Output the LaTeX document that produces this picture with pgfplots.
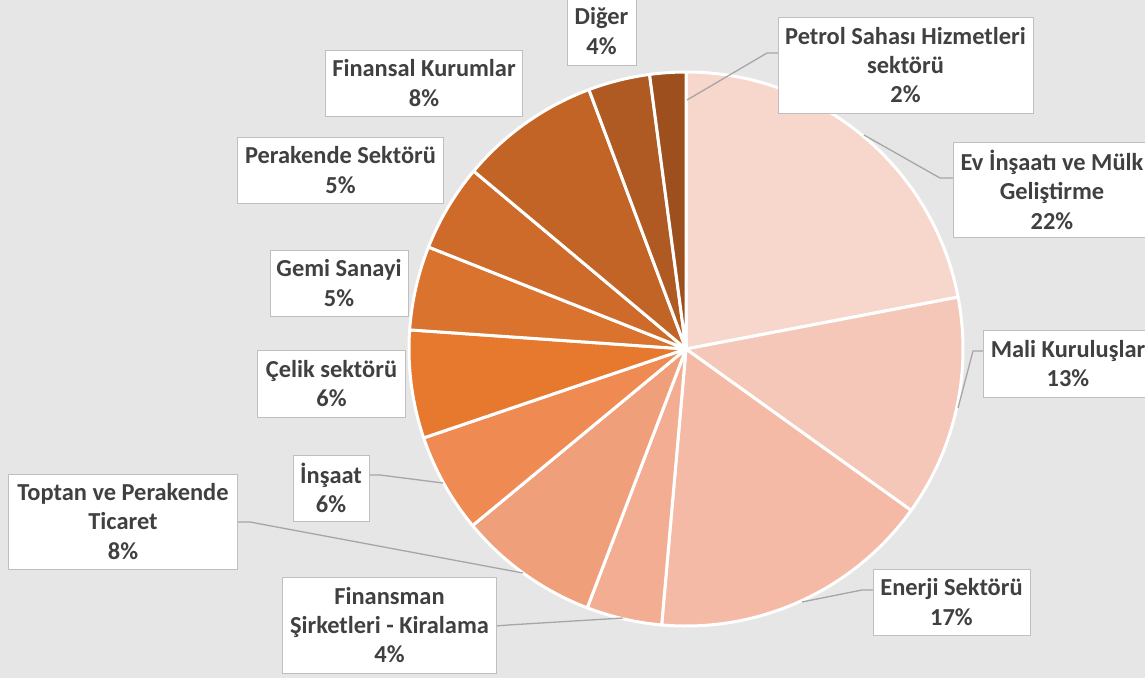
\documentclass[border=0pt]{standalone}
\usepackage{pgfplots}
\pgfplotsset{compat=1.18}
\usepackage{fontspec}
\setmainfont{Carlito}
\definecolor{bg}{HTML}{E5E6E5}
\definecolor{txt}{HTML}{404040}
\definecolor{bord}{HTML}{BFBFBF}
\definecolor{lead}{HTML}{A6A6A6}
\definecolor{c1}{HTML}{F7D6CB}
\definecolor{c2}{HTML}{F5C7B8}
\definecolor{c3}{HTML}{F4BAA6}
\definecolor{c4}{HTML}{F2AD93}
\definecolor{c5}{HTML}{F09F7B}
\definecolor{c6}{HTML}{EE8A52}
\definecolor{c7}{HTML}{E7792F}
\definecolor{c8}{HTML}{DA732E}
\definecolor{c9}{HTML}{CE6B2B}
\definecolor{c10}{HTML}{C26426}
\definecolor{c11}{HTML}{AF5A22}
\definecolor{c12}{HTML}{9D501D}
\tikzset{
  lbl/.style={fill=white, draw=bord, line width=1bp, inner sep=0pt, align=center,
    text=txt, font=\fontsize{24.5}{29.5}\selectfont\bfseries},
  ld/.style={draw=lead, line width=1.3bp}}
\begin{document}
\begin{tikzpicture}
\begin{axis}[x=1bp, y=1bp, xmin=0, xmax=1145, ymin=0, ymax=678, y dir=reverse,
  scale only axis, hide axis, clip=false, anchor=south west, at={(0,0)}]
\fill[bg] (axis cs:0,0) rectangle (axis cs:1145,678);
% slices: value (percent) / colour, clockwise from 12 o'clock
\gdef\angA{90}
\foreach \v/\c in {22.0/c1, 12.9/c2, 16.5/c3, 4.4/c4, 8.2/c5, 5.8/c6, 6.3/c7, 4.9/c8, 5.1/c9, 8.2/c10, 3.6/c11, 2.1/c12}{
  \pgfmathsetmacro\angB{\angA-3.6*\v}
  \edef\temp{\noexpand\filldraw[fill=\c, draw=white, line width=3bp, line join=round]
    (axis cs:686,349) -- ++(\angA:277bp) arc[start angle=\angA, end angle=\angB, radius=277bp] -- cycle;}
  \temp
  \xdef\angA{\angB}
}
% leader lines
\draw[ld] (axis cs:778,53) -- (axis cs:767,53) -- (axis cs:687,100);
\draw[ld] (axis cs:953,178) -- (axis cs:940,178) -- (axis cs:864,135);
\draw[ld] (axis cs:983,351) -- (axis cs:973,351) -- (axis cs:958,408);
\draw[ld] (axis cs:873,590) -- (axis cs:862,590) -- (axis cs:802,602);
\draw[ld] (axis cs:496,626) -- (axis cs:508,625) -- (axis cs:623,618);
\draw[ld] (axis cs:237,522) -- (axis cs:250,522) -- (axis cs:523,573);
\draw[ld] (axis cs:369,475) -- (axis cs:380,475) -- (axis cs:443,483);
% labels
\node[lbl, minimum width=69bp, minimum height=68bp] at (axis cs:601.5,31) {Diğer\\4\%};
\node[lbl, minimum width=255bp, minimum height=96bp] at (axis cs:905.5,65) {Petrol Sahası Hizmetleri\\sektörü\\2\%};
\node[lbl, minimum width=198bp, minimum height=95bp] at (axis cs:1052,189.5) {Ev İnşaatı ve Mülk\\Geliştirme\\22\%};
\node[lbl, minimum width=170bp, minimum height=67bp] at (axis cs:1068,363.5) {Mali Kuruluşlar\\13\%};
\node[lbl, minimum width=157bp, minimum height=66bp] at (axis cs:951.5,602) {Enerji Sektörü\\17\%};
\node[lbl, minimum width=213bp, minimum height=96bp] at (axis cs:389.5,625) {Finansman\\Şirketleri - Kiralama\\4\%};
\node[lbl, minimum width=228bp, minimum height=95bp] at (axis cs:123,521.5) {Toptan ve Perakende\\Ticaret\\8\%};
\node[lbl, minimum width=76bp, minimum height=66bp] at (axis cs:331,488) {İnşaat\\6\%};
\node[lbl, minimum width=147bp, minimum height=67bp] at (axis cs:331.5,383.5) {Çelik sektörü\\6\%};
\node[lbl, minimum width=138bp, minimum height=66bp] at (axis cs:339,283) {Gemi Sanayi\\5\%};
\node[lbl, minimum width=205bp, minimum height=66bp] at (axis cs:340.5,170) {Perakende Sektörü\\5\%};
\node[lbl, minimum width=196bp, minimum height=66bp] at (axis cs:424,83) {Finansal Kurumlar\\8\%};
\end{axis}
\pgfresetboundingbox
\useasboundingbox (0,0) rectangle (1145bp,678bp);
\end{tikzpicture}
\end{document}
